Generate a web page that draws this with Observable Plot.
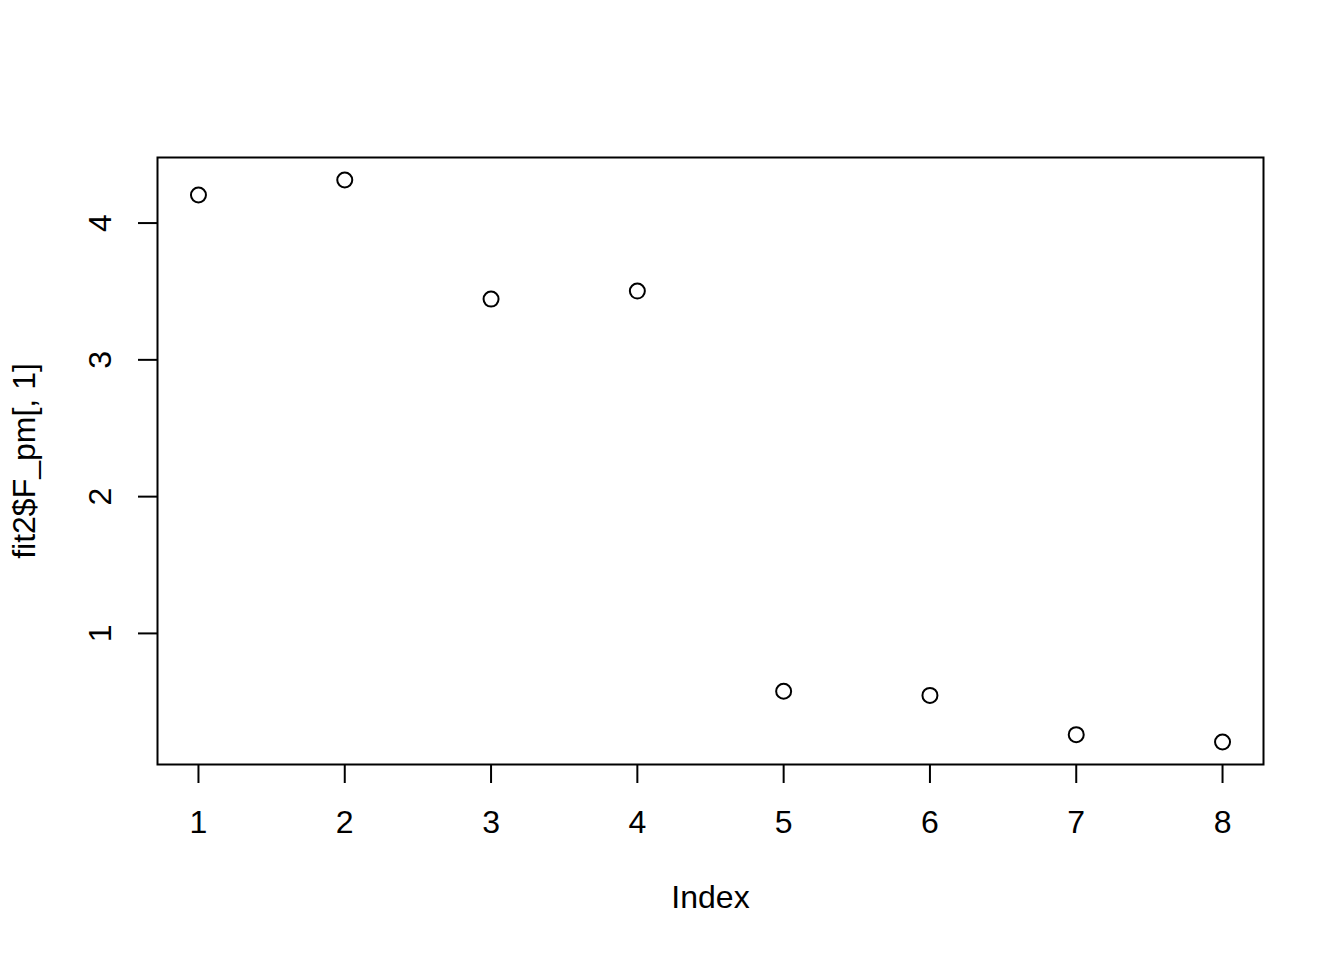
<!DOCTYPE html>
<html>
<head>
<meta charset="utf-8">
<script src="https://cdn.jsdelivr.net/npm/d3@7"></script>
<script src="https://cdn.jsdelivr.net/npm/@observablehq/plot@0.6"></script>
<style>
  html, body { margin: 0; padding: 0; background: #fff; }
  #chart svg { display: block; }
</style>
</head>
<body>
<div id="chart"></div>
<script>
const indexValues = [1, 2, 3, 4, 5, 6, 7, 8];
const fValues = [4.205, 4.315, 3.444, 3.503, 0.577, 0.547, 0.260, 0.206];
const xTicks = [1, 2, 3, 4, 5, 6, 7, 8];
const yTicks = [1, 2, 3, 4];
const xLabel = "Index";
const yLabel = "fit2$F_pm[, 1]";

const data = indexValues.map((x, i) => ({x, y: fValues[i]}));

// R-style 4% axis expansion
function rRange(vals) {
  const lo = d3.min(vals), hi = d3.max(vals), pad = (hi - lo) * 0.04;
  return [lo - pad, hi + pad];
}

const font = "'Liberation Sans', Arial, Helvetica, sans-serif";

const chart = Plot.plot({
  width: 1344,
  height: 960,
  marginLeft: 157,
  marginRight: 81,
  marginTop: 157,
  marginBottom: 196,
  style: {fontFamily: font, fontSize: "32px", color: "black", background: "white"},
  x: {domain: rRange(indexValues), label: null},
  y: {domain: rRange(fValues), label: null},
  marks: [
    Plot.frame({stroke: "black", strokeWidth: 2}),
    Plot.axisX({ticks: xTicks, tickSize: 19, tickPadding: 27, strokeWidth: 2, fontSize: 32, label: null, tickFormat: d => String(d)}),
    Plot.axisY({ticks: yTicks, tickSize: 19, strokeWidth: 2, label: null, tickFormat: () => ""}),
    Plot.text(yTicks, {y: d => d, text: d => String(d), frameAnchor: "left", dx: -57, rotate: -90, textAnchor: "middle", lineAnchor: "middle", fontSize: 32, fill: "black"}),
    Plot.text([yLabel], {text: d => d, frameAnchor: "left", dx: -133, rotate: -90, textAnchor: "middle", lineAnchor: "middle", fontSize: 32, fill: "black"}),
    Plot.text([xLabel], {text: d => d, frameAnchor: "bottom", dy: 133, textAnchor: "middle", lineAnchor: "middle", fontSize: 32, fill: "black"}),
    Plot.dot(data, {x: "x", y: "y", r: 7.5, stroke: "black", strokeWidth: 2, fill: "none"})
  ]
});
document.getElementById("chart").appendChild(chart);
</script>
</body>
</html>
